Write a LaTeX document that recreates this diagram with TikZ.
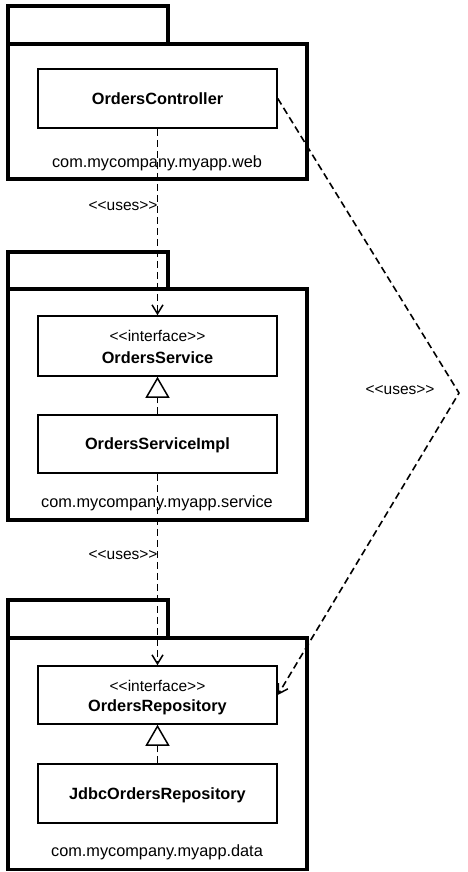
\documentclass[tikz,border=0pt]{standalone}
\usepackage{fontspec}
\setmainfont{Liberation Sans}
\usetikzlibrary{arrows.meta}
\newcommand{\ltlt}{<\kern0pt<}
\newcommand{\gtgt}{>\kern0pt>}
\begin{document}
\begin{tikzpicture}[x=1pt,y=-1pt,
  pkgline/.style={line width=3.4pt, line join=miter},
  cls/.style={draw, line width=1.5pt, minimum width=239pt, inner sep=0pt, text depth=0pt,
    font=\fontsize{16.3}{19}\selectfont\bfseries},
  pkglabel/.style={anchor=base, inner sep=0pt, font=\fontsize{16.3}{19}\selectfont},
  stereo/.style={anchor=base, inner sep=0pt, font=\fontsize{15.5}{18}\selectfont},
  cname/.style={anchor=base, inner sep=0pt, font=\fontsize{16.3}{19}\selectfont\bfseries},
  uses/.style={anchor=base, inner sep=0pt, font=\fontsize{15.5}{18}\selectfont},
  dep/.style={line width=1.6pt, dash pattern=on 7pt off 4pt, -{Straight Barb[length=9pt,width=11pt,line width=1.5pt]}},
  real/.style={line width=1.6pt, dash pattern=on 7pt off 4pt, -{Triangle[open,length=21pt,width=24pt,line width=1.5pt]}}
]
\fill[white] (0,0) rectangle (468,872);
\useasboundingbox (0,0) rectangle (468,872);

% package web
\draw[pkgline] (8,44) rectangle (168,6);
\draw[pkgline] (8,44) rectangle (307,179);
% package service
\draw[pkgline] (8,289) rectangle (168,252);
\draw[pkgline] (8,289) rectangle (307,520);
% package data
\draw[pkgline] (8,638) rectangle (168,600);
\draw[pkgline] (8,638) rectangle (307,869.5);

% classes
\node[cls, minimum height=59pt] (ctrl) at (157.5,98.5) {OrdersController};
\node[pkglabel] (webl) at (157,167) {com.mycompany.myapp.web};

\node[cls, minimum height=60pt] (svc) at (157.5,346) {};
\node[stereo] (svcs) at (157.5,341) {\ltlt interface\gtgt};
\node[cname] (svcn) at (157.5,363) {OrdersService};
\node[cls, minimum height=58pt] (impl) at (157.5,444) {OrdersServiceImpl};
\node[pkglabel] (servl) at (157,507) {com.mycompany.myapp.service};

\node[cls, minimum height=58pt] (repo) at (157.5,695) {};
\node[stereo] (repos) at (157.5,691) {\ltlt interface\gtgt};
\node[cname] (repon) at (157.5,711) {OrdersRepository};
\node[cls, minimum height=59pt] (jdbc) at (157.5,793.5) {JdbcOrdersRepository};
\node[pkglabel] (datal) at (157,856) {com.mycompany.myapp.data};

% dependencies
\draw[dep] (ctrl.south) -- (svc.north);
\node[uses] (u1) at (123,210) {\ltlt uses\gtgt};
\draw[dep] (impl.south) -- (repo.north);
\node[uses] (u2) at (123,559) {\ltlt uses\gtgt};
\coordinate (apex) at (459,393);
\draw[dep] (ctrl.east) -- (apex) -- (repo.east);
\node[uses] (u3) at (400,394) {\ltlt uses\gtgt};

% realizations
\draw[real] (impl.north) -- (svc.south);
\draw[real] (jdbc.north) -- (repo.south);
\end{tikzpicture}
\end{document}
